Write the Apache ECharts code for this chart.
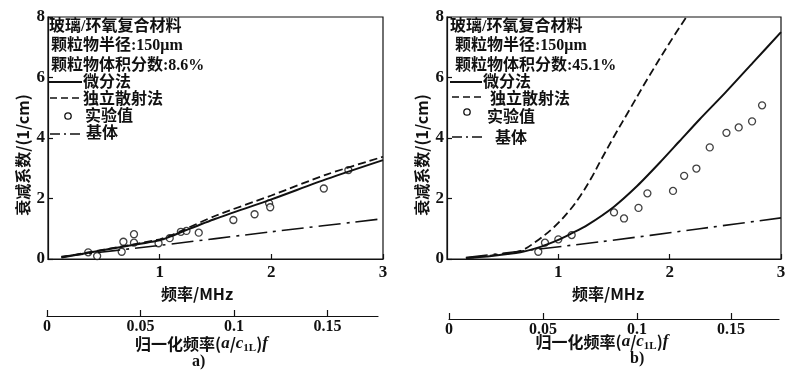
<!DOCTYPE html>
<html><head><meta charset="utf-8">
<script src="https://cdn.jsdelivr.net/npm/echarts@6/dist/echarts.min.js"></script>
<style>html,body{margin:0;padding:0;background:#fff}#c{width:800px;height:374px}</style>
</head><body><div id="c"></div><script>
// ---------- data ----------
// panel a) volume fraction 8.6%
const freqA_diff = [0.12, 0.5, 1.0, 1.1, 1.2, 1.5, 2.0, 2.5, 3.0];
const valA_diff  = [0.05, 0.30, 0.62, 0.75, 0.90, 1.33, 1.97, 2.65, 3.27];
const freqA_ind  = [0.12, 0.5, 1.0, 1.1, 1.2, 1.5, 2.0, 2.5, 3.0];
const valA_ind   = [0.06, 0.31, 0.65, 0.78, 0.94, 1.43, 2.10, 2.80, 3.38];
const freqA_base = [0.12, 1.0, 2.0, 3.0];
const valA_base  = [0.08, 0.45, 0.90, 1.33];
const freqA_exp  = [0.36, 0.44, 0.66, 0.675, 0.77, 0.77, 0.99, 1.09, 1.19, 1.24, 1.35, 1.66, 1.85, 1.98, 1.99, 2.47, 2.69];
const valA_exp   = [0.22, 0.10, 0.24, 0.57, 0.82, 0.54, 0.52, 0.69, 0.90, 0.93, 0.87, 1.29, 1.48, 1.84, 1.71, 2.33, 2.94];
// panel b) volume fraction 45.1%
const freqB_diff = [0.17, 0.4, 0.66, 0.84, 1.0, 1.11, 1.26, 1.5, 1.71, 1.91, 2.09, 2.27, 2.5, 2.75, 3.0];
const valB_diff  = [0.03, 0.10, 0.22, 0.40, 0.63, 0.83, 1.12, 1.73, 2.42, 3.18, 3.90, 4.62, 5.50, 6.50, 7.50];
const freqB_ind  = [0.17, 0.4, 0.66, 0.8, 0.96, 1.1, 1.2, 1.3, 1.38, 1.5, 1.65, 1.8, 2.0, 2.15];
const valB_ind   = [0.03, 0.12, 0.27, 0.58, 1.05, 1.60, 2.10, 2.70, 3.25, 4.05, 5.00, 5.95, 7.15, 8.0];
const freqB_base = [0.17, 1.38, 2.27, 3.0];
const valB_base  = [0.05, 0.57, 1.00, 1.36];
const freqB_exp  = [0.82, 0.88, 1.0, 1.12, 1.50, 1.59, 1.72, 1.80, 2.03, 2.13, 2.24, 2.36, 2.51, 2.62, 2.74, 2.83];
const valB_exp   = [0.24, 0.54, 0.65, 0.79, 1.54, 1.34, 1.69, 2.17, 2.25, 2.75, 2.99, 3.69, 4.17, 4.35, 4.55, 5.08];
// axis ticks / labels
const yTicks = [0, 2, 4, 6, 8];
const normTicks = [0, 0.05, 0.1, 0.15];
const titleLine = '玻璃/环氧复合材料';
const radiusLine = '颗粒物半径:150μm';
const fracA = '颗粒物体积分数:8.6%';
const fracB = '颗粒物体积分数:45.1%';
const legendNames = ['微分法', '独立散射法', '实验值', '基体'];

const zip = (xs, ys) => xs.map((x, i) => [x, ys[i]]);
const SERIF = "'Liberation Serif','Noto Sans CJK SC',serif";
const CJK = "'Noto Sans CJK SC','Liberation Serif',sans-serif";
const K = '#111';

function mainX(g, padR) {
  return {
    gridIndex: g, type: 'value', min: 0, max: 3, interval: 1,
    axisLine: {show: true, lineStyle: {color: K, width: 1.2}},
    axisTick: {show: true, inside: true, length: 5, lineStyle: {color: K, width: 1.2}},
    axisLabel: {showMinLabel: false, color: K, fontFamily: SERIF, fontSize: 17, fontWeight: 'bold', margin: 5},
    splitLine: {show: false},
    name: '频率/MHz', nameLocation: 'middle', nameGap: 25,
    nameTextStyle: {color: K, fontFamily: CJK, fontSize: 16, fontWeight: 'bold', padding: [0, padR, 0, 0]}
  };
}
function mainY(g) {
  return {
    gridIndex: g, type: 'value', min: 0, max: 8, interval: 2,
    axisLine: {show: true, lineStyle: {color: K, width: 1.2}},
    axisTick: {show: true, inside: true, length: 5, lineStyle: {color: K, width: 1.2}},
    axisLabel: {color: K, fontFamily: SERIF, fontSize: 17, fontWeight: 'bold', margin: 3,
      customValues: yTicks},
    splitLine: {show: false},
    name: '衰减系数/(1/cm)', nameLocation: 'middle', nameGap: 17, nameRotate: 90,
    nameTextStyle: {color: K, fontFamily: CJK, fontSize: 16, fontWeight: 'bold', padding: [0, 34, 0, 0]}
  };
}
function normX(g, max, padR, nameGap) {
  return {
    gridIndex: g, type: 'value', min: 0, max: max,
    axisLine: {show: true, lineStyle: {color: K, width: 1.2}},
    axisTick: {show: true, inside: true, length: 6, lineStyle: {color: K, width: 1.2}, customValues: normTicks},
    axisLabel: {color: K, fontFamily: SERIF, fontSize: 16, fontWeight: 'bold', margin: 3, customValues: normTicks},
    splitLine: {show: false},
    name: '{n|归一化频率(}{i|a}{n|/}{i|c}{s|1L}{n|)}{i|f}',
    nameLocation: 'middle', nameGap: nameGap, nameMoveOverlap: false,
    nameTextStyle: {padding: [0, padR, 0, 0], rich: {
      n: {color: K, fontFamily: CJK, fontSize: 16, fontWeight: 'bold', lineHeight: 20},
      i: {color: K, fontFamily: SERIF, fontSize: 17, fontStyle: 'italic', fontWeight: 'bold', lineHeight: 20},
      s: {color: K, fontFamily: SERIF, fontSize: 11, fontWeight: 'bold', verticalAlign: 'bottom', lineHeight: 20, padding: [6, 0, 0, 0]}
    }}
  };
}
const hiddenY = g => ({gridIndex: g, type: 'value', min: 0, max: 1, show: false});

function lineS(xi, data, width, dash, smooth) {
  return {type: 'line', xAxisIndex: xi, yAxisIndex: xi, data: data, showSymbol: false,
    smooth: smooth === undefined ? 0.25 : smooth,
    clip: true, silent: true, animation: false,
    lineStyle: {color: K, width: width, type: dash}};
}
function expS(xi, data) {
  return {type: 'scatter', xAxisIndex: xi, yAxisIndex: xi, data: data, symbol: 'circle', symbolSize: 7,
    animation: false, itemStyle: {color: '#fff', borderColor: K, borderWidth: 1.3}};
}
const DASH = [8, 4];
const DASHDOT = [22, 6, 3, 6];

function txt(x, y, text, size) {
  return {type: 'text', x: x, y: y, style: {text: text, fill: K, fontFamily: SERIF, fontSize: size || 16,
    fontWeight: 'bold', verticalAlign: 'middle', align: 'left'}};
}
function seg(x1, x2, y, w, dash) {
  return {type: 'line', shape: {x1: x1, y1: y, x2: x2, y2: y}, style: {stroke: K, lineWidth: w, lineDash: dash || null}};
}
function panelLegend(o) {
  return [
    txt(o.tx, 27, titleLine),
    txt(o.rx, 46, radiusLine),
    txt(o.rx, 66, o.frac),
    seg(o.lx1, o.lx2, 82, 2),
    txt(o.t1, 83, legendNames[0]),
    seg(o.lx1 + 2, o.lx2, o.dY, 1.6, [7, 4]),
    txt(o.t2, 100, legendNames[1]),
    {type: 'circle', shape: {cx: o.cx, cy: o.cY, r: 3.2}, style: {fill: '#fff', stroke: K, lineWidth: 1.3}},
    txt(o.t3, o.e3, legendNames[2]),
    seg(o.lx1 + 2, o.lx2, o.bY, 1.5, [10, 4, 2, 4]),
    txt(o.t4, o.b4, legendNames[3])
  ];
}

const chart = echarts.init(document.getElementById('c'), null, {renderer: 'canvas'});
chart.setOption({
  backgroundColor: '#fff',
  animation: false,
  grid: [
    {left: 48, top: 17, width: 335, height: 242, show: true, borderColor: K, borderWidth: 1.2},
    {left: 447, top: 17, width: 334, height: 242, show: true, borderColor: K, borderWidth: 1.2},
    {left: 47, top: 315, width: 331, height: 1},
    {left: 449, top: 318, width: 330, height: 1}
  ],
  xAxis: [mainX(0, 37), mainX(1, 12), normX(2, 0.1770, 22, 18), normX(3, 0.1755, 24, 13)],
  yAxis: [mainY(0), mainY(1), hiddenY(2), hiddenY(3)],
  series: [
    lineS(0, zip(freqA_diff, valA_diff), 2, 'solid'),
    lineS(0, zip(freqA_ind, valA_ind), 1.8, DASH),
    lineS(0, zip(freqA_base, valA_base), 1.6, DASHDOT),
    expS(0, zip(freqA_exp, valA_exp)),
    lineS(1, zip(freqB_diff, valB_diff), 2, 'solid'),
    lineS(1, zip(freqB_ind, valB_ind), 1.8, DASH, 0.35),
    lineS(1, zip(freqB_base, valB_base), 1.6, DASHDOT),
    expS(1, zip(freqB_exp, valB_exp))
  ],
  graphic: [].concat(
    panelLegend({tx: 49, rx: 51, frac: fracA, lx1: 48, lx2: 82, t1: 83, t2: 83, t3: 85, t4: 86,
      dY: 98, cx: 68, cY: 116, e3: 117, bY: 134, b4: 134}),
    panelLegend({tx: 450, rx: 455, frac: fracB, lx1: 450, lx2: 482, t1: 483, t2: 490, t3: 487, t4: 495,
      dY: 97, cx: 467, cY: 112, e3: 118, bY: 137, b4: 139}),
    [txt(192, 362, 'a)', 16), txt(630, 359, 'b)', 16)]
  )
});
</script></body></html>
